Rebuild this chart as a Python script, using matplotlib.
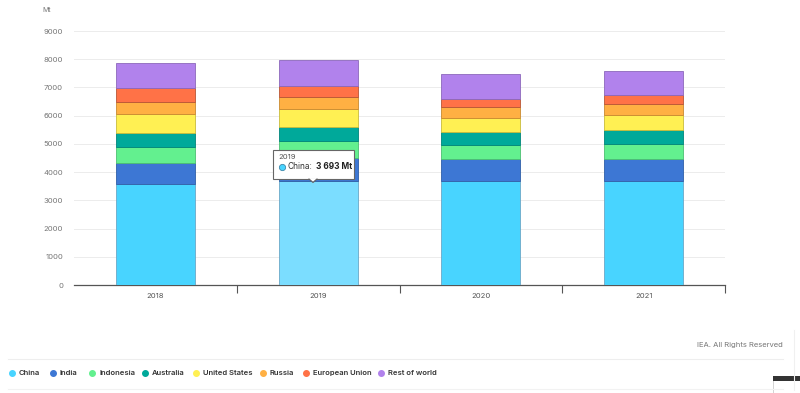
import matplotlib
matplotlib.use("Agg")
import matplotlib.pyplot as plt
from matplotlib.patches import Rectangle, FancyBboxPatch, Polygon
from matplotlib.lines import Line2D
import numpy as np

plt.rcParams['font.family'] = ['Inter', 'DejaVu Sans']

years = ["2018", "2019", "2020", "2021"]
series = ["China", "India", "Indonesia", "Australia", "United States",
          "Russia", "European Union", "Rest of world"]
china = [3563, 3693, 3680, 3680]
india = [771, 794, 771, 796]
indonesia = [555, 614, 497, 519]
australia = [511, 512, 487, 497]
united_states = [661, 626, 484, 533]
russia = [426, 426, 391, 391]
european_union = [476, 379, 297, 333]
rest_of_world = [888, 924, 864, 839]
yticks = [0, 1000, 2000, 3000, 4000, 5000, 6000, 7000, 8000, 9000]

values = [china, india, indonesia, australia, united_states, russia,
          european_union, rest_of_world]
colors = ["#48d4ff", "#3d77d4", "#63f08f", "#00a99a", "#fff053",
          "#ffb043", "#ff7247", "#b182ec"]
edges = ["#6aa8c8", "#2f5fa8", "#4cbf72", "#00857a", "#c9bc3c",
         "#c98a30", "#b85535", "#8c68bb"]

fig = plt.figure(figsize=(8, 3.93), dpi=100)
ax = fig.add_axes([74/800, 1-285/393, (725-74)/800, (285-31)/393])

x = np.arange(len(years))
bottom = np.zeros(len(years))
for name, vals, c, ec in zip(series, values, colors, edges):
    vals = np.array(vals, dtype=float)
    fc = list(c for _ in years)
    if name == "China":
        fc[1] = "#7bddff"
    ax.bar(x, vals, bottom=bottom, width=0.485, color=fc, edgecolor=ec,
           linewidth=0.6, zorder=3)
    bottom += vals

ax.set_xlim(-0.5, 3.5)
ax.set_ylim(0, 9000)
ax.set_yticks(yticks)
ax.set_yticklabels([str(v) for v in yticks], fontsize=5.5, color="#777777")
ax.grid(axis="y", color="#ececec", linewidth=0.7, zorder=0)
ax.set_xticks(x)
ax.set_xticklabels(years, fontsize=5.5, color="#555555")
ax.tick_params(axis="y", length=0, pad=8)
ax.tick_params(axis="x", which="major", length=0, pad=6)
ax.set_xticks([0.5, 1.5, 2.5, 3.5], minor=True)
ax.tick_params(axis="x", which="minor", length=6, color="#555555", width=0.8)
for s in ["top", "right", "left"]:
    ax.spines[s].set_visible(False)
ax.spines["bottom"].set_color("#555555")
ax.spines["bottom"].set_linewidth(0.9)

fig.text(47/800, 1-10/393, "Mt", fontsize=5, color="#777777", ha="center", va="center")

# tooltip
tip = FancyBboxPatch((273/800, 1-179/393), 81/800, 29/393,
                     boxstyle="square,pad=0", transform=fig.transFigure,
                     facecolor="white", edgecolor="#666666", linewidth=0.8, zorder=10)
fig.add_artist(tip)
fig.add_artist(Polygon([[309/800, 1-178.6/393], [317/800, 1-178.6/393], [313/800, 1-182/393]],
                       closed=True, transform=fig.transFigure, facecolor="white",
                       edgecolor="none", zorder=11))
fig.add_artist(Line2D([309/800, 313/800, 317/800], [1-179/393, 1-182.5/393, 1-179/393],
                      color="#666666", linewidth=0.8, transform=fig.transFigure, zorder=11))
fig.text(278/800, 1-157/393, "2019", fontsize=5.5, color="#555555", va="center", zorder=12)
fig.add_artist(Line2D([282/800], [1-166.5/393], marker="o", markersize=4.5,
                      color="#48d4ff", markeredgecolor="#3d88aa",
                      markeredgewidth=0.6, transform=fig.transFigure, zorder=12))
fig.text(287/800, 1-166.5/393, "China:", fontsize=6, color="#333333", va="center", zorder=12)
fig.text(316/800, 1-166.5/393, "3 693 Mt", fontsize=6, color="#222222",
         fontweight="bold", va="center", zorder=12)

# footer
fig.text(783/800, 1-345/393, "IEA. All Rights Reserved", fontsize=5.5,
         color="#777777", ha="right", va="center")
fig.add_artist(Line2D([8/800, 783/800], [1-359/393, 1-359/393], color="#eeeeee",
                      linewidth=0.8, transform=fig.transFigure))
fig.add_artist(Line2D([8/800, 783/800], [1-389/393, 1-389/393], color="#f2f2f2",
                      linewidth=0.8, transform=fig.transFigure))
fig.add_artist(Line2D([794/800, 794/800], [1-390/393, 1-330/393], color="#f0f0f0",
                      linewidth=0.8, transform=fig.transFigure))

leg_x = [12, 53, 92, 145, 196, 263, 306, 381]
for name, c, lx in zip(series, colors, leg_x):
    fig.add_artist(Line2D([lx/800], [1-373/393], marker="o", markersize=4,
                          color=c, linestyle="none", transform=fig.transFigure))
    fig.text((lx+7)/800, 1-373/393, name, fontsize=5.5, color="#333333",
             fontweight="semibold", va="center")

# corner widget
fig.add_artist(Rectangle((773/800, 0), 27/800, 17/393, transform=fig.transFigure,
                         facecolor="white", edgecolor="#cccccc", linewidth=0.6))
fig.add_artist(Rectangle((773/800, 1-381/393), 27/800, 5/393, transform=fig.transFigure,
                         facecolor="#333333", edgecolor="none"))

fig.savefig("out.png", dpi=100)
